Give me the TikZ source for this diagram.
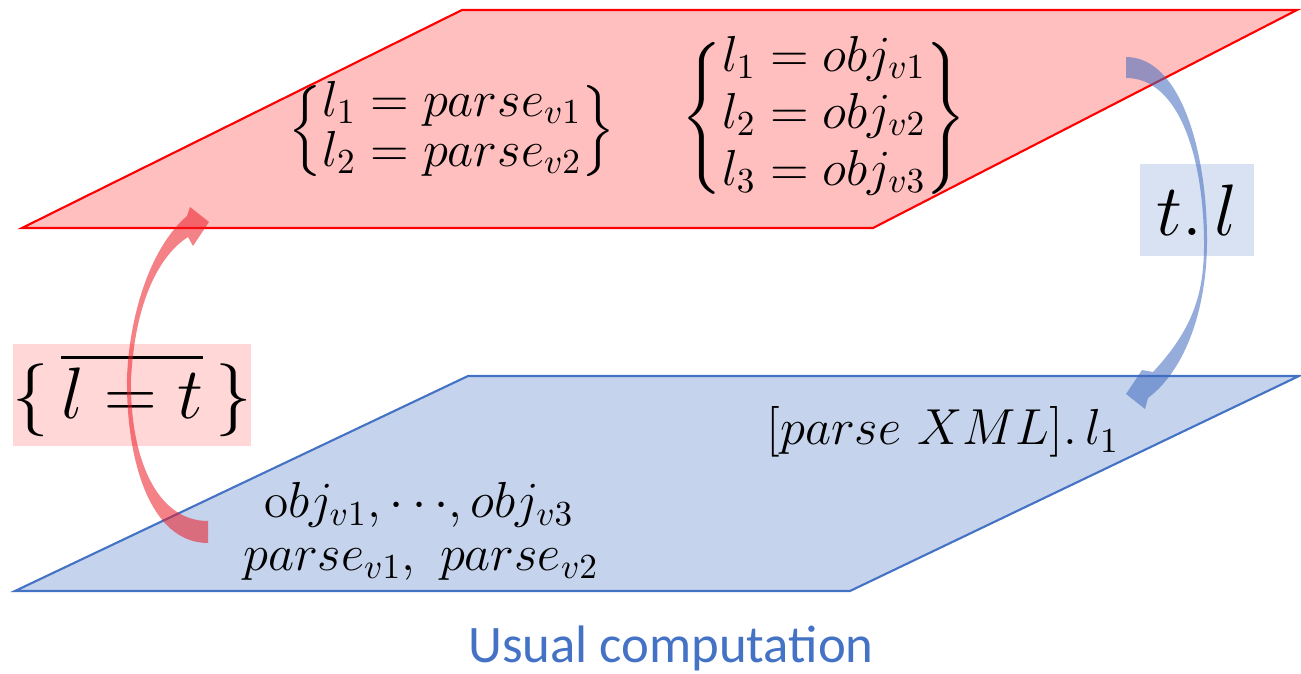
\documentclass[tikz,border=0pt]{standalone}
\usepackage{amsmath}
\usepackage{fontspec}
\newfontfamily\captionfont{Carlito}
\usetikzlibrary{positioning,calc}
\definecolor{planered}{HTML}{FFBFBF}
\definecolor{edgered}{HTML}{FF0000}
\definecolor{planeblue}{HTML}{C5D3EC}
\definecolor{edgeblue}{HTML}{4472C4}
\definecolor{boxred}{HTML}{FFD7D7}
\definecolor{boxblue}{HTML}{D9E2F3}
\definecolor{arrowred}{RGB}{235,25,35}
\definecolor{arrowblue}{RGB}{64,106,190}
\tikzset{
  plane/.style={line width=0.6pt, line join=miter},
  mathtext/.style={font=\fontsize{14}{14}\selectfont, inner sep=0pt},
  labelbox/.style={inner sep=0pt, font=\fontsize{19.5}{23}\selectfont},
  bentarrow/.style={draw=none, fill opacity=0.55},
}

\begin{document}
\begin{tikzpicture}[x=0.01cm, y=-0.01cm]
  \useasboundingbox (0,0) rectangle (1301,674);

  % the two planes
  \draw[plane, draw=edgered, fill=planered] (462,10) -- (1297,10) -- (873,228) -- (22,228) -- cycle;
  \draw[plane, draw=edgeblue, fill=planeblue] (468,376) -- (1299,376) -- (850,591) -- (15,591) -- cycle;

  % upper plane
  \node[mathtext] (parsedef) at (452,131) {$\begin{Bmatrix} l_1 = parse_{v1}\\ l_2 = parse_{v2}\end{Bmatrix}$};
  \node[mathtext] (objdef) at (824,118) {$\begin{Bmatrix} l_1 = obj_{v1}\\[2pt] l_2 = obj_{v2}\\[2pt] l_3 = obj_{v3}\end{Bmatrix}$};

  % lower plane
  \node[mathtext] (objlist) at (419,505) {$\mathrm{o}bj_{v1},{\cdots},obj_{v3}$};
  \node[mathtext] (parselist) at (421,565) {$parse_{v1},\ parse_{v2}$};
  \node[mathtext] (access) at (943,432) {$[parse\ XML].\,l_1$};
  \node[font=\captionfont\fontsize{15}{18}\selectfont, text=edgeblue] (caption) at (671,648) {Usual computation};

  % labels of the two arrows
  \node[labelbox, fill=boxred, minimum width=2.35cm, minimum height=1.01cm] (upname) at (132,395) {$\{\,\overline{l=t}\,\}$};
  \node[labelbox, fill=boxblue, minimum width=1.14cm, minimum height=0.92cm] (downname) at (1197,210) {$t.\,l$};

  % up arrow (red)
  \fill[bentarrow, fill=arrowred]
    (208,543) .. controls (150,543) and (126,460) .. (127,378)
    .. controls (129,320) and (148,250) .. (187,216)
    -- (190,207) -- (209,222) -- (193,246) -- (188,237)
    .. controls (160,255) and (135,300) .. (131,380)
    .. controls (130,455) and (155,521) .. (208,521) -- cycle;

  % down arrow (blue)
  \fill[bentarrow, fill=arrowblue]
    (1126,57) .. controls (1180,57) and (1207,150) .. (1207,240)
    .. controls (1207,310) and (1185,370) .. (1148,398)
    -- (1145,409) -- (1126,394) -- (1142,370) -- (1153,372)
    .. controls (1192,330) and (1204,295) .. (1204,245)
    .. controls (1204,160) and (1180,78) .. (1126,78) -- cycle;
\end{tikzpicture}
\end{document}
